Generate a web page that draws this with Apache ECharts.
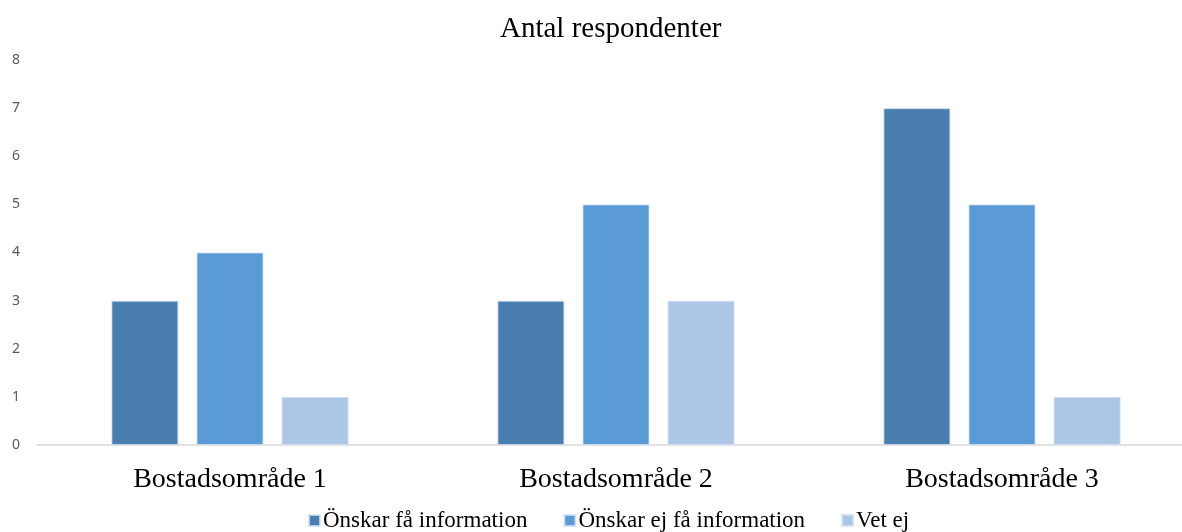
<!DOCTYPE html>
<html>
<head>
<meta charset="utf-8">
<script src="https://cdn.jsdelivr.net/npm/echarts@6/dist/echarts.min.js"></script>
<style>html,body{margin:0;padding:0;background:#fff;}#c{width:1182px;height:532px;}</style>
</head>
<body>
<div id="c"></div>
<script>
const categories = ['Bostadsområde 1', 'Bostadsområde 2', 'Bostadsområde 3'];
const seriesNames = ['Önskar få information', 'Önskar ej få information', 'Vet ej'];
const onskarFa = [3, 3, 7];
const onskarEjFa = [4, 5, 5];
const vetEj = [1, 3, 1];
const yTicks = [0, 1, 2, 3, 4, 5, 6, 7, 8];

const colors = ['#4A7EAF', '#5B9BD5', '#ADC6E5'];
const chart = echarts.init(document.getElementById('c'));
const serif = '"Liberation Serif", "Times New Roman", serif';
const mk = (name, data, color) => ({
  name, type: 'bar', data, barWidth: 67, barGap: '27%',
  itemStyle: { color, borderColor: 'rgba(210,225,245,0.8)', borderWidth: 1 }
});
chart.setOption({
  animation: false,
  title: { text: 'Antal respondenter', left: 495, top: 10,
    textStyle: { fontFamily: serif, fontSize: 29, fontWeight: 'normal', color: '#000' } },
  legend: { left: 303, top: 504, itemWidth: 11, itemHeight: 11, itemGap: 36, icon: 'rect',
    textStyle: { fontFamily: serif, fontSize: 23, color: '#000', padding: [0, 0, 0, -2] } },
  grid: { left: 37, width: 1158, top: 60, bottom: 87, containLabel: false, outerBoundsMode: 'none' },
  xAxis: { type: 'category', data: categories,
    axisLine: { lineStyle: { color: '#d9d9d9', width: 1.5 } }, axisTick: { show: false },
    axisLabel: { fontFamily: serif, fontSize: 28, color: '#000', margin: 21 } },
  yAxis: { type: 'value', min: 0, max: 8, interval: 1,
    axisLine: { show: false }, axisTick: { show: false }, splitLine: { show: false },
    axisLabel: { fontFamily: '"Noto Sans", sans-serif', fontSize: 14, color: '#595959', margin: 17,
      formatter: v => yTicks.includes(v) ? String(v) : '' } },
  series: [mk(seriesNames[0], onskarFa, colors[0]), mk(seriesNames[1], onskarEjFa, colors[1]), mk(seriesNames[2], vetEj, colors[2])]
});
</script>
</body>
</html>
